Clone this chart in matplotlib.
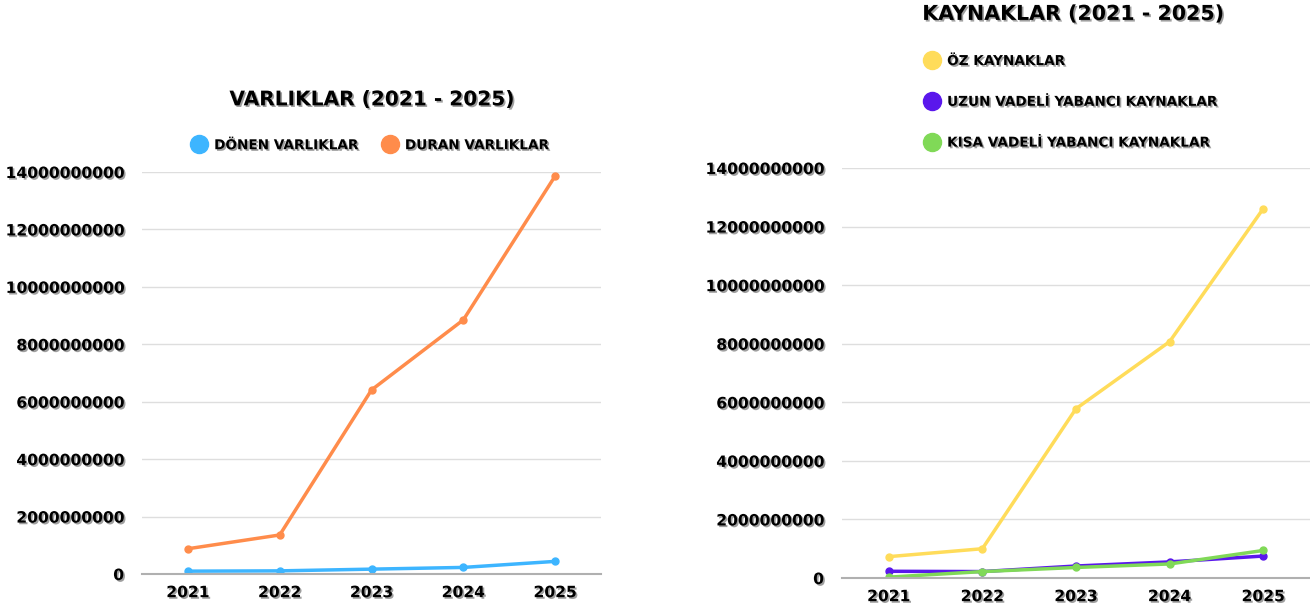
import matplotlib
matplotlib.use("Agg")
import matplotlib.pyplot as plt
import matplotlib.patheffects as pe
from matplotlib.lines import Line2D

years = ['2021', '2022', '2023', '2024', '2025']

# varliklar
donen = [0.10e9, 0.11e9, 0.17e9, 0.23e9, 0.44e9]
duran = [0.88e9, 1.36e9, 6.41e9, 8.85e9, 13.86e9]

# kaynaklar
oz = [0.73e9, 1.00e9, 5.78e9, 8.07e9, 12.61e9]
uzun = [0.23e9, 0.22e9, 0.41e9, 0.55e9, 0.75e9]
kisa = [0.03e9, 0.22e9, 0.36e9, 0.48e9, 0.94e9]

yticks = [0, 2e9, 4e9, 6e9, 8e9, 10e9, 12e9, 14e9]

c_donen = '#3db5ff'
c_duran = '#ff8c4b'
c_oz = '#ffdc5a'
c_uzun = '#5a17ec'
c_kisa = '#80d957'

FONT = ['DejaVu Sans']
shadow = [pe.withSimplePatchShadow(offset=(1.2, -1.2), shadow_rgbFace='#777777', alpha=0.7)]


def style_axes(ax):
    x = range(len(years))
    ax.set_xlim(-0.5, 4.5)
    ax.set_ylim(0, 14e9)
    ax.set_yticks(yticks)
    ax.set_yticklabels([str(int(v)) for v in yticks])
    ax.set_xticks(list(x))
    ax.set_xticklabels(years)
    for s in ['top', 'right', 'left']:
        ax.spines[s].set_visible(False)
    ax.spines['bottom'].set_color('#b0b0b0')
    ax.spines['bottom'].set_linewidth(1.5)
    ax.grid(axis='y', color='#dedede', linewidth=1)
    ax.set_axisbelow(True)
    ax.tick_params(length=0, pad=13)
    for lab in ax.get_xticklabels() + ax.get_yticklabels():
        lab.set_fontfamily(FONT)
        lab.set_fontweight('bold')
        lab.set_fontsize(11.2)
        lab.set_path_effects(shadow)
    ax.tick_params(axis='x', pad=8)


fig = plt.figure(figsize=(13.1, 6.05), dpi=100)

# left chart
ax1 = fig.add_axes([0.1084, 0.0512, 0.3504, 0.6645])
x = range(len(years))
ax1.plot(x, donen, color=c_donen, lw=2.5, marker='o', ms=5)
ax1.plot(x, duran, color=c_duran, lw=2.5, marker='o', ms=5)
style_axes(ax1)
fig.text(0.284, 0.835, 'VARLIKLAR (2021 - 2025)', ha='center', va='center',
         fontsize=14.5, fontweight='bold', family=FONT, path_effects=shadow)
h1 = [Line2D([], [], color=c_donen, marker='o', ls='', ms=13),
      Line2D([], [], color=c_duran, marker='o', ls='', ms=13)]
leg1 = fig.legend(h1, ['DÖNEN VARLIKLAR', 'DURAN VARLIKLAR'], loc='center',
                  bbox_to_anchor=(0.283, 0.76), ncol=2, frameon=False,
                  handlelength=1, handletextpad=0.6, columnspacing=1.8,
                  prop={'family': FONT, 'weight': 'bold', 'size': 9.8})
for t in leg1.get_texts():
    t.set_path_effects(shadow)

# right chart
ax2 = fig.add_axes([0.6427, 0.0446, 0.3573, 0.6777])
ax2.plot(x, oz, color=c_oz, lw=2.5, marker='o', ms=5)
ax2.plot(x, uzun, color=c_uzun, lw=2.5, marker='o', ms=5)
ax2.plot(x, kisa, color=c_kisa, lw=2.5, marker='o', ms=5)
style_axes(ax2)
fig.text(0.704, 0.977, 'KAYNAKLAR (2021 - 2025)', ha='left', va='center',
         fontsize=14.8, fontweight='bold', family=FONT, path_effects=shadow)
h2 = [Line2D([], [], color=c_oz, marker='o', ls='', ms=13),
      Line2D([], [], color=c_uzun, marker='o', ls='', ms=13),
      Line2D([], [], color=c_kisa, marker='o', ls='', ms=13)]
leg2 = fig.legend(h2, ['ÖZ KAYNAKLAR', 'UZUN VADELİ YABANCI KAYNAKLAR', 'KISA VADELİ YABANCI KAYNAKLAR'],
                  loc='upper left', bbox_to_anchor=(0.697, 0.931), ncol=1, frameon=False,
                  handlelength=1, handletextpad=0.6, labelspacing=1.97,
                  prop={'family': FONT, 'weight': 'bold', 'size': 9.8})
for t in leg2.get_texts():
    t.set_path_effects(shadow)

fig.savefig('out.png', dpi=100, facecolor='white')
